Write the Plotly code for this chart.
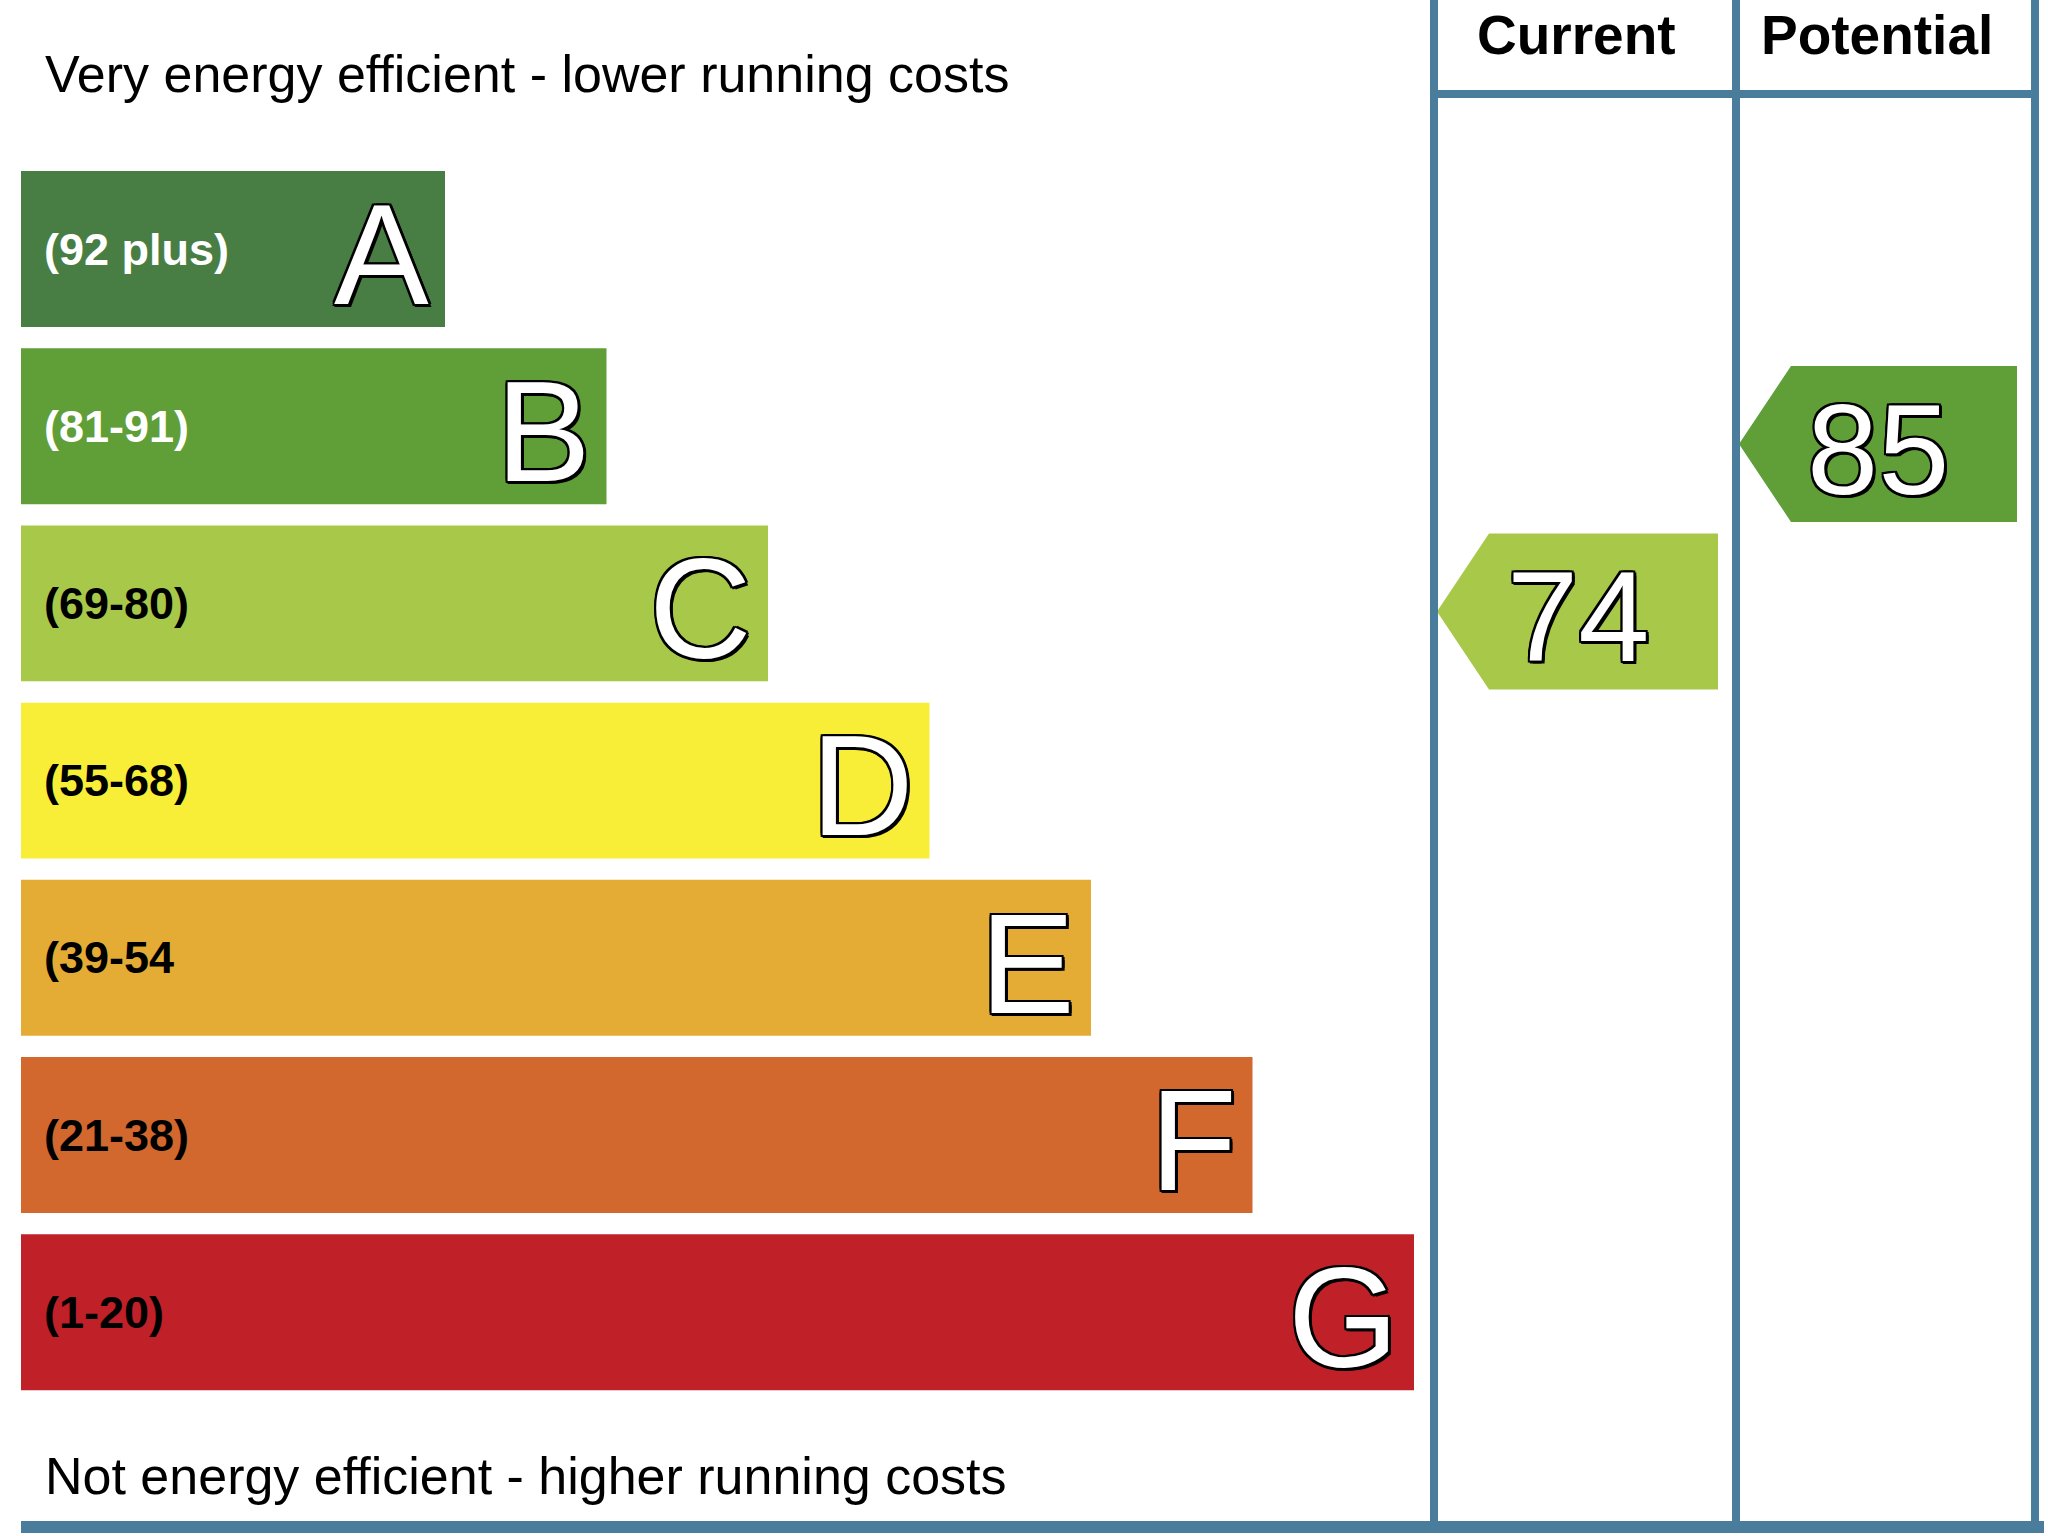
import plotly.graph_objects as go


# -----------------------------
# Chart data
# -----------------------------
BANDS = ["A", "B", "C", "D", "E", "F", "G"]
BAND_LABELS = ["(92 plus)", "(81-91)", "(69-80)", "(55-68)", "(39-54", "(21-38)", "(1-20)"]
BAND_LOW = [92, 81, 69, 55, 39, 21, 1]
BAND_HIGH = [100, 91, 80, 68, 54, 38, 20]
BAND_COLORS = ["#487E44", "#609E38", "#A8C84A", "#F8EE38", "#E4AC34", "#D2682E", "#C02028"]
LABEL_COLORS = ["white", "white", "black", "black", "black", "black", "black"]

RATING_NAMES = ["Current", "Potential"]
RATING_VALUES = [74, 85]

TOP_TEXT = "Very energy efficient - lower running costs"
BOTTOM_TEXT = "Not energy efficient - higher running costs"

# -----------------------------
# Layout constants (pixels on a 2048 x 1536 canvas)
# -----------------------------
W, H = 2048, 1536
BAR_LEFT = 21
BAR_MIN = 424
BAR_STEP = 161.5
BAR_HEIGHT = 0.88
PITCH = 177.2          # pixels per band
FIRST_CENTER = 249     # pixel y of band A centre
FRAME = "#4A7D9C"
COL_EDGES = [1434, 1736, 2035]
HEADER_Y = 94

FONT = "Liberation Sans, Arial, Helvetica, sans-serif"
OUTLINE = ", ".join(
    f"{dx}px {dy}px 0 #000"
    for dx, dy in [(-2, 0), (3, 0), (0, -2), (0, 3), (-2, -2), (2, -2), (-2, 2), (3, 3)]
)


def py(pixel_y):
    # pixel row -> band axis coordinate
    return (pixel_y - FIRST_CENTER) / PITCH


def band_of(value):
    for i, (lo, hi) in enumerate(zip(BAND_LOW, BAND_HIGH)):
        if lo <= value <= hi:
            return i
    return len(BANDS) - 1


def band_position(value):
    i = band_of(value)
    lo, hi = BAND_LOW[i], BAND_HIGH[i]
    return i - 0.5 + (hi - value) / (hi - lo)


def main():
    idx = list(range(len(BANDS)))
    lengths = [BAR_MIN + BAR_STEP * i for i in idx]

    fig = go.Figure()

    fig.add_trace(
        go.Bar(
            y=idx,
            x=lengths,
            base=BAR_LEFT,
            orientation="h",
            width=BAR_HEIGHT,
            marker=dict(color=BAND_COLORS, line=dict(width=0)),
            hoverinfo="skip",
        )
    )

    annotations = []

    # range labels and band letters
    for i, (letter, label) in enumerate(zip(BANDS, BAND_LABELS)):
        annotations.append(dict(
            x=BAR_LEFT + 21, y=i, xanchor="left", yanchor="middle",
            text=label, showarrow=False,
            font=dict(family=FONT, size=45, color=LABEL_COLORS[i], weight="bold"),
        ))
        annotations.append(dict(
            x=BAR_LEFT + lengths[i] - 14, y=i + 0.03, xanchor="right", yanchor="middle",
            text=letter, showarrow=False,
            font=dict(family=FONT, size=142, color="white", shadow=OUTLINE),
        ))

    # rating arrows
    for k, (name, value) in enumerate(zip(RATING_NAMES, RATING_VALUES)):
        left, right = COL_EDGES[k], COL_EDGES[k + 1]
        yc = band_position(value)
        color = BAND_COLORS[band_of(value)]
        half = BAR_HEIGHT / 2
        tip = left + 3
        body_left = left + 55
        body_right = right - 18
        fig.add_trace(
            go.Scatter(
                x=[tip, body_left, body_right, body_right, body_left, tip],
                y=[yc, yc - half, yc - half, yc + half, yc + half, yc],
                mode="lines",
                fill="toself",
                fillcolor=color,
                line=dict(width=0, color=color),
                hoverinfo="skip",
            )
        )
        annotations.append(dict(
            x=(body_left + body_right) / 2 - 26, y=yc + 0.03, xanchor="center", yanchor="middle",
            text=str(value), showarrow=False,
            font=dict(family=FONT, size=128, color="white", shadow=OUTLINE),
        ))
        annotations.append(dict(
            x=(left + right) / 2 - 9, y=py(35), xanchor="center", yanchor="middle",
            text=name, showarrow=False,
            font=dict(family=FONT, size=55, color="black", weight="bold"),
        ))

    # top / bottom captions
    annotations.append(dict(
        x=43, y=py(74), xanchor="left", yanchor="middle", text=TOP_TEXT, showarrow=False,
        font=dict(family=FONT, size=52, color="black"),
    ))
    annotations.append(dict(
        x=43, y=py(1476), xanchor="left", yanchor="middle", text=BOTTOM_TEXT, showarrow=False,
        font=dict(family=FONT, size=52, color="black"),
    ))

    # frame lines
    shapes = []
    for xc in COL_EDGES:
        shapes.append(dict(type="line", x0=xc, x1=xc, y0=py(0), y1=py(1526),
                           line=dict(color=FRAME, width=8)))
    shapes.append(dict(type="line", x0=COL_EDGES[0], x1=COL_EDGES[-1], y0=py(HEADER_Y), y1=py(HEADER_Y),
                       line=dict(color=FRAME, width=8)))
    shapes.append(dict(type="line", x0=BAR_LEFT, x1=2044, y0=py(1527), y1=py(1527),
                       line=dict(color=FRAME, width=12)))

    fig.update_layout(
        width=W,
        height=H,
        margin=dict(l=0, r=0, t=0, b=0),
        paper_bgcolor="white",
        plot_bgcolor="white",
        showlegend=False,
        xaxis=dict(range=[0, W], visible=False, fixedrange=True),
        yaxis=dict(range=[py(H), py(0)], visible=False, fixedrange=True),
        annotations=annotations,
        shapes=shapes,
    )

    fig.write_html(
        "out.html",
        config={"displayModeBar": False},
        post_script="document.body.style.margin='0px';",
    )


if __name__ == "__main__":
    main()
